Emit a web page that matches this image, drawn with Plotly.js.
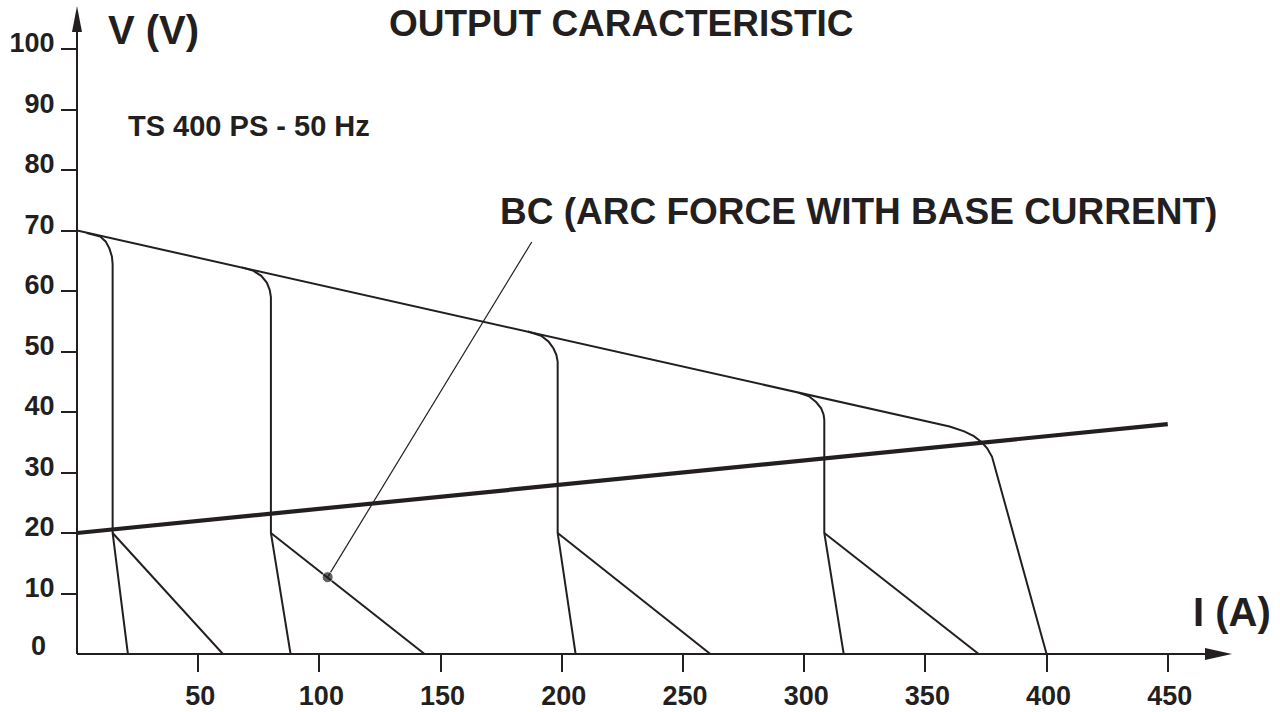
<!DOCTYPE html>
<html>
<head>
<meta charset="utf-8">
<script src="https://cdn.plot.ly/plotly-3.0.1.min.js"></script>
<style>html,body{margin:0;padding:0;background:#fff;}#chart{width:1280px;height:712px;}</style>
</head>
<body>
<div id="chart"></div>
<script>
// ---- data ----
const currentTicks = [50, 100, 150, 200, 250, 300, 350, 400, 450];
const voltageTicks = [10, 20, 30, 40, 50, 60, 70, 80, 90, 100];

// maximum output envelope (A, V)
const envI = [0, 360, 366, 370, 373, 375.5, 377.5, 400];
const envV = [70, 37.6, 36.8, 36.0, 35.1, 34.0, 32.6, 0];

// current settings: droop from envelope, vertical, steep end
const c1I = [4, 7, 9.6, 11.8, 13.4, 14.4, 14.7, 14.7, 21];
const c1V = [69.6, 69.3, 69.0, 68.2, 67.0, 65.7, 64.5, 20, 0];
const c2I = [68, 72.5, 76, 78.3, 79.5, 80, 80, 88.1];
const c2V = [63.9, 63.4, 62.5, 61.4, 60.2, 59, 20, 0];
const c3I = [186, 191.5, 194.6, 196.6, 197.8, 198.3, 198.3, 205.7];
const c3V = [53.3, 52.6, 51.6, 50.5, 49.4, 48.3, 20, 0];
const c4I = [297.5, 302, 305, 307, 308, 308.3, 308.3, 316.3];
const c4V = [43.2, 42.6, 41.6, 40.6, 39.6, 38.7, 20, 0];

// BC (arc force with base current) branches
const bc1I = [14.7, 60.2],  bc1V = [20, 0];
const bc2I = [80, 143.4],   bc2V = [20, 0];
const bc3I = [198.3, 261.3], bc3V = [20, 0];
const bc4I = [308.3, 372],  bc4V = [20, 0];

// conventional load line
const loadI = [0, 450];
const loadV = [20, 38];

// BC pointer (dot on the branch, leader to label)
const ptrI = [103.4, 187.6];
const ptrV = [12.7, 68.1];

// ---- drawing ----
const INK = '#231f20';
const FONT = 'Liberation Sans, Arial, sans-serif';
const XMAX = 496.3, YMAX = 108.1;

function thin(x, y, w) {
  return {x: x, y: y, type: 'scatter', mode: 'lines', hoverinfo: 'skip',
          line: {color: INK, width: w || 2}, showlegend: false};
}

const traces = [
  thin(envI, envV),
  thin(c1I, c1V), thin(c2I, c2V), thin(c3I, c3V), thin(c4I, c4V),
  thin(bc1I, bc1V), thin(bc2I, bc2V), thin(bc3I, bc3V), thin(bc4I, bc4V),
  thin(loadI, loadV, 4.2),
  {x: ptrI, y: ptrV, type: 'scatter', mode: 'lines+markers', hoverinfo: 'skip',
   line: {color: INK, width: 1.2}, marker: {color: INK, size: [11, 0]}, showlegend: false}
];

const tickFont = {family: FONT, size: 27, color: INK, weight: 'bold'};

function label(text, x, y, size, extra) {
  return Object.assign({text: text, x: x, y: y, xref: 'x', yref: 'y', showarrow: false,
    xanchor: 'center', yanchor: 'middle',
    font: {family: FONT, size: size, color: INK, weight: 'bold'}}, extra || {});
}

const layout = {
  width: 1280, height: 712,
  margin: {l: 77, r: 0, t: 0, b: 58},
  paper_bgcolor: '#fff', plot_bgcolor: '#fff',
  showlegend: false,
  xaxis: {range: [0, XMAX], showgrid: false, zeroline: false, showline: false,
          tickmode: 'array', tickvals: currentTicks, ticktext: currentTicks.map(String),
          ticks: 'outside', ticklen: 17, tickwidth: 2, tickcolor: INK,
          tickfont: tickFont, ticklabelstandoff: 1, ticklabelshift: 2},
  yaxis: {range: [0, YMAX], showgrid: false, zeroline: false, showline: false,
          tickmode: 'array', tickvals: voltageTicks, ticktext: voltageTicks.map(String),
          ticks: 'outside', ticklen: 15, tickwidth: 2, tickcolor: INK,
          tickfont: tickFont, ticklabelstandoff: 1, ticklabelshift: -6},
  shapes: [
    {type: 'line', xref: 'paper', yref: 'paper', x0: 0, y0: 0, x1: 470 / XMAX, y1: 0,
     line: {color: INK, width: 2}},
    {type: 'line', xref: 'paper', yref: 'paper', x0: 0, y0: 0, x1: 0, y1: 104 / YMAX,
     line: {color: INK, width: 2}},
    {type: 'path', xref: 'paper', yref: 'paper', xsizemode: 'pixel', ysizemode: 'pixel',
     xanchor: 476.5 / XMAX, yanchor: 0, path: 'M0,0 L-27,6 L-27,-6 Z', fillcolor: INK, line: {width: 0}},
    {type: 'path', xref: 'paper', yref: 'paper', xsizemode: 'pixel', ysizemode: 'pixel',
     xanchor: 0, yanchor: 107.1 / YMAX, path: 'M0,0 L-5,-26 L5,-26 Z', fillcolor: INK, line: {width: 0}}
  ],
  annotations: [
    label('OUTPUT CARACTERISTIC', 224.6, 104.2, 37),
    label('V (V)', 31.6, 103.1, 40),
    label('TS 400 PS - 50 Hz', 71.0, 87.3, 29),
    label('I (A)', 476.3, 6.9, 40),
    label('BC (ARC FORCE WITH BASE CURRENT)', 322.6, 73.1, 37),
    label('0', -29 / 1203, 1.3 / YMAX, 27, {xanchor: 'right', xref: 'paper', yref: 'paper'})
  ]
};

Plotly.newPlot('chart', traces, layout, {staticPlot: true, displayModeBar: false});
</script>
</body>
</html>
